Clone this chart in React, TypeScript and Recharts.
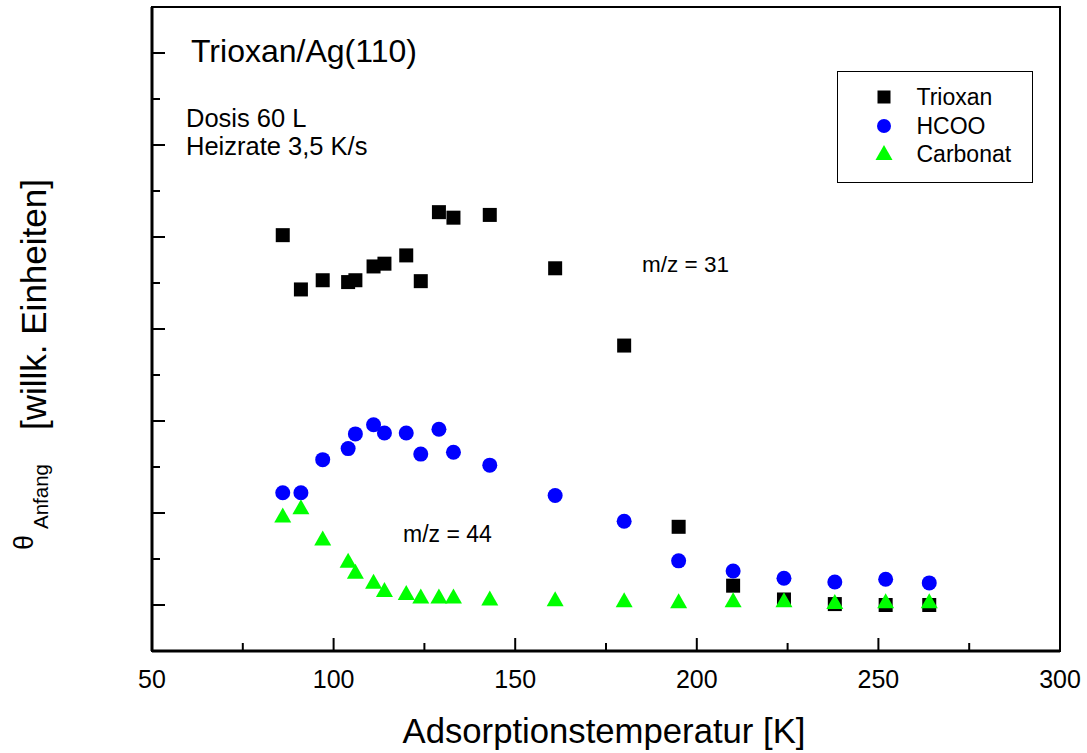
import { ScatterChart, Scatter, XAxis, YAxis, ReferenceArea, Legend } from 'recharts'

// Adsorption temperature [K]
const temperatures = [86, 91, 97, 104, 106, 111, 114, 120, 124, 129, 133, 143, 161, 180, 195, 210, 224, 238, 252, 264]
// initial coverage, arbitrary units (one unit = one major y tick)
const trioxan = [4.02, 3.43, 3.53, 3.51, 3.53, 3.68, 3.71, 3.8, 3.52, 4.27, 4.21, 4.24, 3.66, 2.82, 0.85, 0.21, 0.06, 0.01, 0.0, 0.0]
const hcoo = [1.22, 1.22, 1.58, 1.7, 1.86, 1.96, 1.87, 1.87, 1.64, 1.91, 1.66, 1.52, 1.19, 0.91, 0.48, 0.37, 0.29, 0.25, 0.28, 0.24]
const carbonat = [0.95, 1.04, 0.7, 0.46, 0.34, 0.23, 0.14, 0.11, 0.07, 0.07, 0.07, 0.05, 0.04, 0.03, 0.02, 0.03, 0.03, 0.01, 0.02, 0.02]

const seriesNames = ['Trioxan', 'HCOO', 'Carbonat']
const xTicks = [50, 75, 100, 125, 150, 175, 200, 225, 250, 275, 300]
const yTicks = [0, 0.5, 1, 1.5, 2, 2.5, 3, 3.5, 4, 4.5, 5, 5.5, 6]

const FONT = '"Liberation Sans", Arial, sans-serif'

const toPoints = (ys: number[]) => temperatures.map((t, i) => ({ t, v: ys[i] }))

const SquareDot = (p: any) => <rect x={p.cx - 7} y={p.cy - 7} width={14} height={14} fill="#000" />
const CircleDot = (p: any) => <circle cx={p.cx} cy={p.cy} r={7.5} fill="#0000ff" />
const TriangleDot = (p: any) => (
  <polygon points={`${p.cx},${p.cy - 10} ${p.cx + 8.5},${p.cy + 5} ${p.cx - 8.5},${p.cy + 5}`} fill="#00ff00" />
)

function XTick({ x, y, payload }: any) {
  const major = payload.value % 50 === 0
  return (
    <g>
      <line x1={x} x2={x} y1={y} y2={y - (major ? 13 : 8)} stroke="#000" strokeWidth={2} />
      {major && (
        <text x={x} y={y + 36.5} textAnchor="middle" fontSize={25} fontFamily={FONT} fill="#000">
          {payload.value}
        </text>
      )}
    </g>
  )
}

function YTick({ x, y, payload }: any) {
  const major = Number.isInteger(payload.value)
  return <line x1={x} x2={x + (major ? 13 : 8)} y1={y} y2={y} stroke="#000" strokeWidth={2} />
}

const icons: Record<string, JSX.Element> = {
  Trioxan: <rect x={3.5} y={3.5} width={13} height={13} fill="#000" />,
  HCOO: <circle cx={10} cy={10} r={7} fill="#0000ff" />,
  Carbonat: <polygon points="10,1 18.5,16 1.5,16" fill="#00ff00" />,
}

function LegendBox({ payload }: any) {
  const rows = [12, 41, 69]
  // keep the series order, not the alphabetical one
  const items = [...(payload || [])].sort((a: any, b: any) => seriesNames.indexOf(a.value) - seriesNames.indexOf(b.value))
  return (
    <div style={{ position: 'relative', width: 196, height: 112, boxSizing: 'border-box', border: '1.5px solid #000', background: '#fff', fontFamily: FONT }}>
      {items.map((entry: any, i: number) => (
        <div key={entry.value} style={{ position: 'absolute', left: 0, top: rows[i] - 1.5, height: 28, display: 'flex', alignItems: 'center' }}>
          <svg width={20} height={20} style={{ marginLeft: 35.5 }}>{icons[entry.value]}</svg>
          <span style={{ marginLeft: 23, fontSize: 23, color: '#000', lineHeight: '28px' }}>{entry.value}</span>
        </div>
      ))}
    </div>
  )
}

export default function App() {
  return (
    <div style={{ width: 1087, height: 753, background: '#fff' }}>
      <style>{'body{margin:0}'}</style>
      <ScatterChart width={1087} height={753} margin={{ top: 7, right: 27, left: 92, bottom: 42 }}>
        <XAxis
          dataKey="t"
          type="number"
          domain={[50, 300]}
          ticks={xTicks}
          interval={0}
          allowDataOverflow
          tickSize={0}
          tickMargin={0}
          tickLine={false}
          tick={<XTick />}
          height={60}
          axisLine={{ stroke: '#000', strokeWidth: 3 }}
        />
        <YAxis
          dataKey="v"
          type="number"
          domain={[-0.5, 6.5]}
          ticks={yTicks}
          interval={0}
          allowDataOverflow
          tickSize={0}
          tickMargin={0}
          tickLine={false}
          tick={<YTick />}
          width={60}
          axisLine={{ stroke: '#000', strokeWidth: 3 }}
        />
        <ReferenceArea x1={50} x2={300} y1={-0.5} y2={6.5} fill="none" stroke="#000" strokeWidth={2} />
        <Scatter name="Trioxan" data={toPoints(trioxan)} shape={SquareDot} isAnimationActive={false} />
        <Scatter name="HCOO" data={toPoints(hcoo)} shape={CircleDot} isAnimationActive={false} />
        <Scatter name="Carbonat" data={toPoints(carbonat)} shape={TriangleDot} isAnimationActive={false} />
        <Legend
          layout="vertical"
          align="center"
          verticalAlign="middle"
          content={<LegendBox />}
          wrapperStyle={{ left: 837, top: 71, width: 196, height: 112 }}
        />

        {/* annotations */}
        <text x={191} y={62} fontSize={32} fontFamily={FONT} fill="#000">Trioxan/Ag(110)</text>
        <text x={186} y={127} fontSize={25.5} fontFamily={FONT} fill="#000">Dosis 60 L</text>
        <text x={186} y={155} fontSize={25.5} fontFamily={FONT} fill="#000">Heizrate 3,5 K/s</text>
        <text x={642} y={272} fontSize={22.5} fontFamily={FONT} fill="#000">m/z = 31</text>
        <text x={403} y={542} fontSize={23} fontFamily={FONT} fill="#000">m/z = 44</text>

        {/* axis titles */}
        <text x={604} y={743} textAnchor="middle" fontSize={34.7} fontFamily={FONT} fill="#000">Adsorptionstemperatur [K]</text>
        <text transform="translate(33,550) rotate(-90)" fontSize={27} fontFamily={FONT} fill="#000">θ</text>
        <text transform="translate(48,529) rotate(-90)" fontSize={20.5} fontFamily={FONT} fill="#000">Anfang</text>
        <text transform="translate(46,430) rotate(-90)" fontSize={35} fontFamily={FONT} fill="#000">[willk. Einheiten]</text>
      </ScatterChart>
    </div>
  )
}
